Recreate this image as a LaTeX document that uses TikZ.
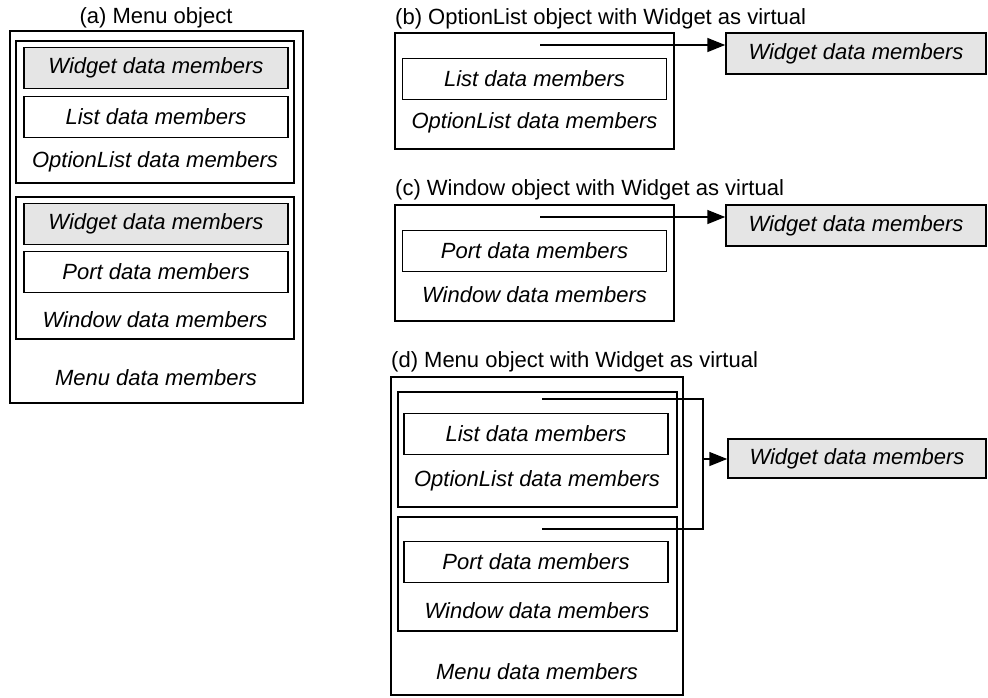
\documentclass[tikz,border=0pt]{standalone}
\usepackage{fontspec}
\setmainfont{Liberation Sans}
\usetikzlibrary{arrows.meta}
\begin{document}
\begin{tikzpicture}[x=1pt,y=-1pt]
    \tikzstyle{frame}=[draw=black, line width=1.5pt, inner sep=0pt]
    \tikzstyle{member}=[frame, minimum width=264pt, minimum height=41pt, font=\fontsize{22}{26}\selectfont\itshape]
    \tikzstyle{widget}=[member, fill=gray!20]
    \tikzstyle{txt}=[inner sep=0pt, font=\fontsize{22}{26}\selectfont\itshape]
    \tikzstyle{caption}=[inner sep=0pt, font=\fontsize{22}{26}\selectfont]
    \tikzstyle{link}=[line width=1.5pt, -{Triangle[length=18pt,width=14pt]}]
    \useasboundingbox (0,0) rectangle (988,697);
    % (a)
    \node[caption] (ta) at (156,18) {(a) Menu object};
    \node[frame, minimum width=293pt, minimum height=372pt] (aMenu) at (156.5,217) {};
    \node[frame, minimum width=278pt, minimum height=142pt] (aOpt) at (155,112) {};
    \node[widget] (aWid1) at (156,68) {Widget data members};
    \node[member] (aList) at (156,117) {List data members};
    \node[txt] (aOptTxt) at (155,162) {OptionList data members};
    \node[frame, minimum width=278pt, minimum height=142pt] (aWin) at (155,268) {};
    \node[widget] (aWid2) at (156,224) {Widget data members};
    \node[member] (aPort) at (156,272) {Port data members};
    \node[txt] (aWinTxt) at (155,320) {Window data members};
    \node[txt] (aMenuTxt) at (156,378) {Menu data members};
    % (b)
    \node[caption, anchor=west] (tb) at (395,19) {(b) OptionList object with Widget as virtual};
    \node[frame, minimum width=279pt, minimum height=116pt] (bOpt) at (534.5,91) {};
    \node[member] (bList) at (534.5,79) {List data members};
    \node[txt] (bOptTxt) at (534.5,123) {OptionList data members};
    \node[widget, minimum width=260pt] (bWid) at (856,53.5) {Widget data members};
    \coordinate (bs) at (540,45);
    \draw[link] (bs) -- (bs -| bWid.west);
    % (c)
    \node[caption, anchor=west] (tc) at (395,190) {(c) Window object with Widget as virtual};
    \node[frame, minimum width=279pt, minimum height=116pt] (cWin) at (534.5,263) {};
    \node[member] (cPort) at (534.5,251) {Port data members};
    \node[txt] (cWinTxt) at (534.5,295) {Window data members};
    \node[widget, minimum width=260pt] (cWid) at (856,225.5) {Widget data members};
    \coordinate (cs) at (540,217);
    \draw[link] (cs) -- (cs -| cWid.west);
    % (d)
    \node[caption, anchor=west] (td) at (391,362) {(d) Menu object with Widget as virtual};
    \node[frame, minimum width=292pt, minimum height=318pt] (dMenu) at (537,536) {};
    \node[frame, minimum width=279pt, minimum height=115pt] (dOpt) at (537.5,449.5) {};
    \node[member] (dList) at (536,434) {List data members};
    \node[txt] (dOptTxt) at (537,481) {OptionList data members};
    \node[frame, minimum width=279pt, minimum height=114pt] (dWin) at (537.5,574) {};
    \node[member] (dPort) at (536,562) {Port data members};
    \node[txt] (dWinTxt) at (537,611) {Window data members};
    \node[txt] (dMenuTxt) at (537,672) {Menu data members};
    \node[widget, minimum width=258pt, minimum height=39pt] (dWid) at (857,458.5) {Widget data members};
    \coordinate (ds1) at (542,399);
    \coordinate (ds2) at (542,529);
    \coordinate (dj) at (703,459);
    \draw[line width=1.5pt] (ds1) -- (ds1 -| dj) -- (ds2 -| dj) -- (ds2);
    \draw[link] (dj) -- (dj -| dWid.west);
\end{tikzpicture}
\end{document}
